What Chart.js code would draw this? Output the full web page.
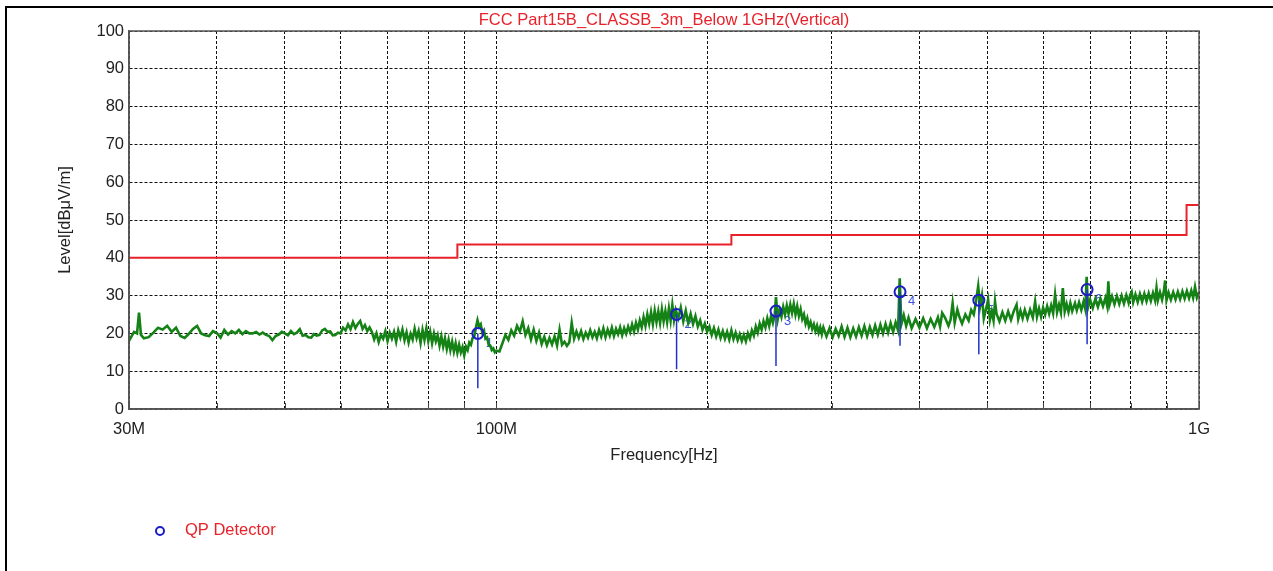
<!DOCTYPE html>
<html>
<head>
<meta charset="utf-8">
<title>FCC Part15B Class B 3m Vertical</title>
<script src="https://cdn.jsdelivr.net/npm/chart.js@4.4.1/dist/chart.umd.min.js"></script>
<style>
  html, body { margin: 0; padding: 0; background: #fff; }
  canvas { display: block; }
</style>
</head>
<body>
<canvas id="emi" width="1273" height="571"></canvas>
<script>
// measured trace, [frequency MHz, level dBuV/m]
const trace30to60 = [
  [30.0,18.0],[30.5,20.4],[30.8,20.0],[31.0,25.5],[31.2,19.6],[31.5,18.7],[32.0,19.0],[32.5,20.2],
  [33.0,21.5],[33.5,21.0],[34.0,22.0],[34.5,20.4],[35.0,21.5],[35.5,19.3],[36.0,18.8],[36.5,19.9],
  [37.0,21.2],[37.5,22.0],[38.0,20.0],[38.5,19.5],[39.0,19.3],[39.5,20.6],[40.0,20.1],[40.5,18.9],
  [41.0,20.9],[41.5,19.7],[42.0,20.6],[42.5,20.0],[43.0,20.9],[43.5,19.8],[44.0,20.6],[44.5,20.0],
  [45.0,20.0],[45.5,20.4],[46.0,19.7],[46.5,20.2],[47.0,19.6],[47.5,19.3],[48.0,18.2],[48.5,19.3],
  [49.0,19.7],[49.5,20.4],[50.0,20.0],[50.5,19.5],[51.0,20.6],[51.5,19.8],[52.0,20.2],[52.5,21.1],
  [53.0,19.4],[53.5,19.6],[54.0,19.0],[54.5,18.9],[55.0,19.8],[55.5,19.4],[56.0,19.6],[56.5,20.8],
  [57.0,21.2],[57.5,20.4],[58.0,20.5],[58.5,19.5],[59.0,19.6],[59.5,20.2],[60.0,20.0]
];
const trace60to100 = [
  [60.5,21.5],[61.0,20.8],[61.5,22.4],[62.0,21.1],[62.5,23.0],[63.0,21.4],[63.5,22.5],[64.0,23.3],
  [64.5,21.2],[65.0,22.2],[65.5,20.6],[66.0,21.6],[66.5,20.4],[67.0,18.4],[67.5,20.0],[68.0,17.7],
  [68.5,19.6],[69.0,18.6],[69.5,20.6],[70.0,18.0],[70.5,20.2],[71.0,18.6],[71.5,20.4],[72.0,17.8],
  [72.5,20.8],[73.0,18.9],[73.5,21.0],[74.0,18.2],[74.5,20.3],[75.0,17.6],[75.5,19.9],[76.0,18.4],
  [76.5,21.2],[77.0,18.8],[77.5,20.6],[78.0,17.5],[78.5,20.9],[79.0,18.3],[79.5,21.3],[80.0,18.0],
  [80.5,20.4],[81.0,17.4],[81.5,20.0],[82.0,17.9],[82.5,19.5],[83.0,16.8],[83.5,19.2],[84.0,16.5],
  [84.5,18.7],[85.0,15.9],[85.5,18.3],[86.0,15.6],[86.5,17.8],[87.0,15.2],[87.5,17.4],[88.0,14.9],
  [88.5,17.0],[89.0,15.0],[89.5,16.4],[90.0,14.2],[90.5,16.5],[91.0,15.6],[91.5,17.6],[92.0,17.0],
  [92.5,18.8],[93.0,19.2],[93.5,21.5],[94.0,23.5],[94.5,21.8],[95.0,22.4],[95.5,20.2],[96.0,20.8],
  [96.5,18.6],[97.0,18.9],[97.5,17.0],[98.0,16.8],[98.5,15.6],[99.0,16.0],[99.5,15.0],[100.0,15.4]
];
const trace100to180 = [
  [101,15.2],[102,17.4],[103,19.6],[104,18.3],[105,20.8],[106,19.4],[107,22.0],[108,20.5],
  [109,23.2],[110,19.6],[111,21.4],[112,18.4],[113,21.0],[114,18.0],[115,20.2],[116,17.2],
  [117,19.1],[118,16.9],[119,18.8],[120,17.1],[121,19.2],[122,16.8],[123,21.0],[124,17.0],
  [125,17.8],[126,16.7],[127,17.6],[128,22.8],[129,18.6],[130,20.5],[131,18.8],[132,20.6],
  [133,18.5],[134,20.2],[135,18.9],[136,20.8],[137,19.0],[138,20.4],[139,18.7],[140,20.9],
  [141,19.2],[142,21.3],[143,19.0],[144,21.0],[145,19.4],[146,21.5],[147,19.3],[148,21.2],
  [149,19.8],[150,21.6],[151,19.5],[152,21.4],[153,19.9],[154,21.8],[155,20.3],[156,22.4],
  [157,20.5],[158,22.8],[159,21.0],[160,23.4],[161,21.6],[162,24.3],[163,22.0],[164,25.0],
  [165,22.6],[166,25.6],[167,22.5],[168,26.0],[169,23.0],[170,25.8],[171,22.8],[172,26.4],
  [173,23.2],[174,25.9],[175,23.0],[176,26.6],[177,23.4],[178,27.5],[179,23.6],[180,26.2]
];
const trace180to290 = [
  [181.5,24.0],[183,26.8],[184.5,23.2],[186,26.0],[187.5,22.8],[189,25.2],[190.5,22.5],[192,24.6],
  [193.5,21.8],[195,23.4],[196.5,21.0],[198,22.6],[199.5,20.4],[201,21.8],[202.5,19.6],[204,21.4],
  [205.5,19.2],[207,21.0],[208.5,18.8],[210,20.6],[211.5,18.6],[213,20.4],[214.5,18.4],[216,20.8],
  [217.5,18.5],[219,20.2],[220.5,18.2],[222,19.8],[223.5,18.0],[225,19.6],[226.5,17.9],[228,20.0],
  [229.5,18.6],[231,20.8],[232.5,19.4],[234,21.8],[235.5,20.2],[237,22.6],[238.5,21.0],[240,23.2],
  [241.5,21.6],[243,24.0],[244.5,22.0],[246,24.6],[247.5,22.8],[249,25.0],[250,29.6],[251.5,23.8],
  [253,26.2],[254.5,24.4],[256,27.0],[257.5,25.0],[259,27.4],[260.5,25.2],[262,27.6],[263.5,25.4],
  [265,27.8],[266.5,25.0],[268,27.2],[269.5,24.6],[271,26.4],[272.5,23.8],[274,25.0],[275.5,22.6],
  [277,24.0],[278.5,21.8],[280,23.0],[281.5,21.2],[283,22.4],[284.5,20.6],[286,22.0],[287.5,20.2],
  [289,21.6],[290.5,19.8]
];
const trace290to600 = [
  [292,21.6],[295,19.2],[298,21.4],[301,19.0],[304,21.2],[307,19.3],[310,21.8],[313,19.1],
  [316,21.5],[319,19.0],[322,21.3],[325,19.2],[328,21.6],[331,19.4],[334,21.9],[337,19.3],
  [340,21.7],[343,19.6],[346,22.1],[349,19.7],[352,22.3],[355,20.0],[358,22.5],[361,20.2],
  [364,22.7],[367,20.4],[370,22.9],[373,20.8],[375,34.6],[377,22.4],[380,24.8],[383,22.0],
  [386,24.2],[390,21.4],[395,23.8],[400,21.5],[405,24.0],[410,21.4],[415,23.8],[420,21.7],
  [425,24.2],[428,21.8],[431,25.4],[435,24.2],[440,22.0],[443,23.6],[446,28.0],[449,22.8],
  [453,26.3],[456,24.4],[460,22.6],[465,25.0],[470,23.4],[474,26.2],[478,25.0],[481,27.8],
  [485,32.5],[488,27.2],[491,30.0],[494,24.0],[497,26.0],[501,28.9],[504,23.6],[507,25.8],
  [510,23.4],[512.5,28.4],[515,25.2],[520,23.2],[525,25.6],[530,23.4],[535,25.8],[540,23.6],
  [545,25.9],[550,27.6],[553,23.8],[557,26.0],[561,24.0],[565,26.2],[570,23.9],[575,26.3],
  [580,24.2],[584.5,28.4],[588,24.4],[592,26.6],[596,24.4],[600,26.8]
];
const trace600to1000 = [
  [604,25.0],[608,27.2],[612,25.2],[616,27.4],[620,25.3],[624,30.3],[628,25.6],[632,27.6],
  [636,25.5],[640,32.0],[644,25.8],[648,27.8],[652,25.7],[656,28.0],[660,25.9],[666,28.0],
  [670,26.1],[675,28.2],[680,26.2],[685,28.4],[689,26.4],[692,35.0],[695,26.8],[700,28.9],
  [706,26.7],[712,29.1],[718,27.0],[724,29.2],[730,27.2],[736,29.4],[740,27.4],[743,33.8],
  [746,27.6],[752,29.8],[758,27.7],[764,29.9],[770,27.8],[776,30.0],[782,27.9],[788,30.1],
  [794,28.1],[798,30.2],[802,31.0],[806,28.2],[812,30.3],[818,28.3],[824,30.4],[830,28.4],
  [836,30.5],[842,28.5],[848,30.6],[854,28.6],[860,30.7],[866,28.7],[870,32.0],[874,28.8],
  [880,30.9],[886,28.9],[891,31.0],[895,34.0],[899,28.8],[905,30.8],[912,28.9],[919,30.9],
  [926,29.0],[933,31.0],[940,29.1],[947,31.1],[954,29.2],[961,31.2],[968,29.3],[975,31.3],
  [981,29.4],[987,32.3],[993,29.5],[1000,30.9]
];

// FCC Part 15 class B 3m limit (step edges, MHz)
const limitFreqs = [30, 88, 216, 960, 1000];
const limitLevels = [40, 43.5, 46, 54, 54];

// QP detector results
const markerIds = ['1', '2', '3', '4', '5', '6'];
const markerFreqs = [94.1, 180.5, 250, 375.4, 486, 693];
const markerLevels = [20.0, 25.0, 25.9, 31.0, 28.8, 31.6];
const markerStemBase = [5.5, 10.5, 11.4, 16.7, 14.5, 17.1];

const gridFreqs = [30, 40, 50, 60, 70, 80, 90, 100, 200, 300, 400, 500, 600, 700, 800, 900, 1000];
const freqTickLabels = { 30: '30M', 100: '100M', 1000: '1G' };

const FONT = "'Liberation Sans', Arial, sans-serif";
const GREEN = '#148214';
const RED = '#e8212a';
const BLUE = '#1c1cc8';

const traceData = [].concat(trace30to60, trace60to100, trace100to180, trace180to290, trace290to600, trace600to1000)
  .map(p => ({ x: p[0], y: p[1] }));

const limitData = limitFreqs.map((f, i) => ({ x: f, y: limitLevels[i] }));

const markerData = markerFreqs.map((f, i) => ({ x: f, y: markerLevels[i] }));

const stemData = [];
markerFreqs.forEach((f, i) => {
  stemData.push({ x: f, y: markerStemBase[i] });
  stemData.push({ x: f, y: markerLevels[i] });
  stemData.push({ x: f, y: null });
});

const pagePlugin = {
  id: 'page',
  beforeDraw(chart) {
    const ctx = chart.ctx;
    ctx.save();
    ctx.fillStyle = '#fff';
    ctx.fillRect(0, 0, chart.width, chart.height);
    // outer frame (left and top only)
    ctx.fillStyle = '#000';
    ctx.fillRect(5, 6, 2, chart.height - 6);
    ctx.fillRect(5, 6, chart.width - 5, 2);
    ctx.restore();
  },
  beforeDatasetsDraw(chart) {
    const { ctx, chartArea } = chart;
    const xs = chart.scales.x, ys = chart.scales.y;
    ctx.save();
    // small solid ticks inside the bottom edge
    ctx.strokeStyle = '#444';
    ctx.lineWidth = 1;
    gridFreqs.forEach(f => {
      const px = Math.round(xs.getPixelForValue(f)) + 0.5;
      ctx.beginPath();
      ctx.moveTo(px, chartArea.bottom);
      ctx.lineTo(px, chartArea.bottom - 6);
      ctx.stroke();
    });
    // marker numbers, under the trace like the original
    ctx.fillStyle = '#3a52e6';
    ctx.font = '13px ' + FONT;
    ctx.textBaseline = 'middle';
    markerIds.forEach((id, i) => {
      const px = xs.getPixelForValue(markerFreqs[i]);
      const py = ys.getPixelForValue(markerLevels[i]);
      ctx.fillText(id, px + 8, py + 10);
    });
    ctx.restore();
  },
  afterDraw(chart) {
    const { ctx, chartArea } = chart;
    ctx.save();
    ctx.strokeStyle = '#555';
    ctx.lineWidth = 1.5;
    ctx.strokeRect(chartArea.left, chartArea.top, chartArea.right - chartArea.left, chartArea.bottom - chartArea.top);
    // title centred over the plot area
    ctx.fillStyle = RED;
    ctx.font = '16.5px ' + FONT;
    ctx.textAlign = 'center';
    ctx.textBaseline = 'middle';
    ctx.fillText('FCC Part15B_CLASSB_3m_Below 1GHz(Vertical)', (chartArea.left + chartArea.right) / 2, 20);
    // legend
    ctx.strokeStyle = BLUE;
    ctx.lineWidth = 2;
    ctx.beginPath();
    ctx.arc(160, 531, 4, 0, Math.PI * 2);
    ctx.stroke();
    ctx.textAlign = 'left';
    ctx.fillText('QP Detector', 185, 530);
    ctx.restore();
  }
};

new Chart(document.getElementById('emi'), {
  type: 'line',
  data: {
    datasets: [
      {
        label: 'QP Detector',
        data: markerData,
        showLine: false,
        pointRadius: 5.5,
        pointBorderWidth: 2,
        pointBorderColor: BLUE,
        pointBackgroundColor: 'rgba(0,0,0,0)',
        order: 0
      },
      {
        label: 'stems',
        data: stemData,
        borderColor: '#2233cc',
        borderWidth: 1.5,
        pointRadius: 0,
        spanGaps: false,
        order: 1
      },
      {
        label: 'Vertical',
        data: traceData,
        borderColor: GREEN,
        borderWidth: 2.6,
        pointRadius: 0,
        tension: 0,
        order: 2
      },
      {
        label: 'Limit',
        data: limitData,
        borderColor: RED,
        borderWidth: 2,
        pointRadius: 0,
        stepped: true,
        order: 3
      }
    ]
  },
  options: {
    responsive: false,
    animation: false,
    events: [],
    layout: { padding: { left: 0, right: 74, top: 31, bottom: 0 } },
    plugins: {
      legend: { display: false },
      tooltip: { enabled: false },
      title: { display: false }
    },
    scales: {
      x: {
        type: 'logarithmic',
        min: 30,
        max: 1000,
        afterBuildTicks: scale => { scale.ticks = gridFreqs.map(v => ({ value: v })); },
        afterFit: scale => { scale.height = 162; },
        ticks: {
          autoSkip: false,
          maxRotation: 0,
          padding: 11,
          color: '#222',
          font: { family: FONT, size: 16.5 },
          callback: v => freqTickLabels[v] || ''
        },
        grid: { color: '#111', lineWidth: 1, drawTicks: false },
        border: { color: '#555', width: 1.5, dash: [3, 2] },
        title: {
          display: true,
          text: 'Frequency[Hz]',
          color: '#222',
          font: { family: FONT, size: 16.5 },
          padding: { top: 0, bottom: 106 }
        }
      },
      y: {
        min: 0,
        max: 100,
        afterFit: scale => { scale.width = 129; },
        ticks: {
          stepSize: 10,
          padding: 5,
          color: '#222',
          font: { family: FONT, size: 16.5 }
        },
        grid: { color: '#111', lineWidth: 1, drawTicks: false },
        border: { color: '#555', width: 1.5, dash: [3, 2] },
        title: {
          display: true,
          text: 'Level[dBμV/m]',
          color: '#222',
          font: { family: FONT, size: 16.5 },
          padding: { top: 56, bottom: 0 }
        }
      }
    }
  },
  plugins: [pagePlugin]
});
</script>
</body>
</html>
